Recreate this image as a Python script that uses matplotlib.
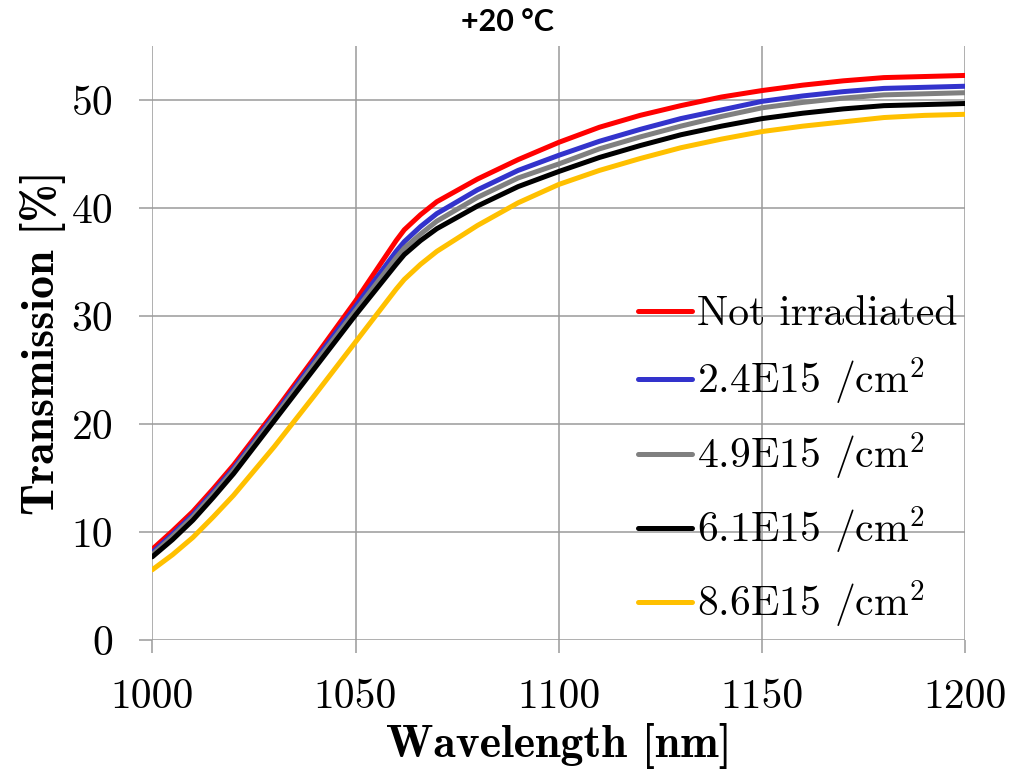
import matplotlib
matplotlib.use("Agg")
import matplotlib.pyplot as plt

plt.rcParams['mathtext.fontset'] = 'cm'
plt.rcParams['axes.unicode_minus'] = False

wavelength = [1000, 1005, 1010, 1015, 1020, 1030, 1040, 1050, 1060, 1062, 1066, 1070, 1080, 1090,
              1100, 1110, 1120, 1130, 1140, 1150, 1160, 1170, 1180, 1190, 1200]

not_irr = [8.4, 10.1, 11.9, 14.0, 16.2, 21.1, 26.2, 31.4, 37.0, 38.0, 39.4, 40.6, 42.7, 44.5,
           46.1, 47.5, 48.6, 49.5, 50.3, 50.9, 51.4, 51.8, 52.1, 52.2, 52.3]
f24 = [8.1, 9.8, 11.6, 13.7, 15.9, 20.8, 25.9, 30.9, 36.0, 36.9, 38.3, 39.5, 41.7, 43.5,
       44.9, 46.2, 47.3, 48.3, 49.1, 49.9, 50.4, 50.8, 51.1, 51.2, 51.3]
f49 = [7.9, 9.6, 11.4, 13.5, 15.7, 20.6, 25.6, 30.5, 35.4, 36.3, 37.6, 38.8, 41.0, 42.8,
       44.1, 45.5, 46.6, 47.6, 48.5, 49.3, 49.8, 50.2, 50.5, 50.6, 50.7]
f61 = [7.7, 9.3, 11.1, 13.2, 15.4, 20.3, 25.2, 30.1, 34.8, 35.7, 37.0, 38.1, 40.2, 42.0,
       43.4, 44.7, 45.8, 46.8, 47.6, 48.3, 48.8, 49.2, 49.5, 49.6, 49.7]
f86 = [6.5, 7.9, 9.5, 11.4, 13.4, 17.9, 22.7, 27.6, 32.5, 33.4, 34.8, 36.0, 38.4, 40.5,
       42.2, 43.5, 44.6, 45.6, 46.4, 47.1, 47.6, 48.0, 48.4, 48.6, 48.7]

labels = ['Not irradiated', r'2.4E15 /cm$^\mathbf{2}$', r'4.9E15 /cm$^\mathbf{2}$',
          r'6.1E15 /cm$^\mathbf{2}$', r'8.6E15 /cm$^\mathbf{2}$']
colors = ['#FF0000', '#3333CC', '#808080', '#000000', '#FFC000']
series = [not_irr, f24, f49, f61, f86]

x_ticks = [1000, 1050, 1100, 1150, 1200]
y_ticks = [0, 10, 20, 30, 40, 50]

fig = plt.figure(figsize=(10.15, 7.69), dpi=100)
ax = fig.add_axes([0.15, 0.1678, 0.801, 0.772])

for vals, c, lab in zip(series, colors, labels):
    ax.plot(wavelength, vals, color=c, lw=3.6, label=lab,
            solid_capstyle='round', solid_joinstyle='round')

ax.set_xlim(1000, 1200)
ax.set_ylim(0, 55)
ax.set_xticks(x_ticks)
ax.set_yticks(y_ticks)
ax.grid(True, color='#9a9a9a', lw=1.1)
ax.set_axisbelow(True)
for s in ax.spines.values():
    s.set_visible(False)
ax.tick_params(length=9.4, width=1.1, color='#9a9a9a', pad=18.7,
               labelsize=30)
for t in ax.get_xticklabels() + ax.get_yticklabels():
    t.set_family('cmr10')

ax.set_xlabel('Wavelength [nm]', family='cmb10', fontsize=33, labelpad=5)
ax.set_ylabel('Transmission [%]', family='cmb10', fontsize=33, labelpad=4)

leg = ax.legend(loc='upper left', bbox_to_anchor=(0.597, 0.58), frameon=False,
                fontsize=30, handlelength=1.3, handletextpad=0.12,
                labelspacing=0.55, borderpad=0, borderaxespad=0)
for t in leg.get_texts():
    t.set_family('cmr10')

fig.text(0.5, 0.971, '+20 °C', ha='center', va='center', fontsize=22,
         fontweight='bold', family='Lato')

fig.savefig('out.png', dpi=100)
